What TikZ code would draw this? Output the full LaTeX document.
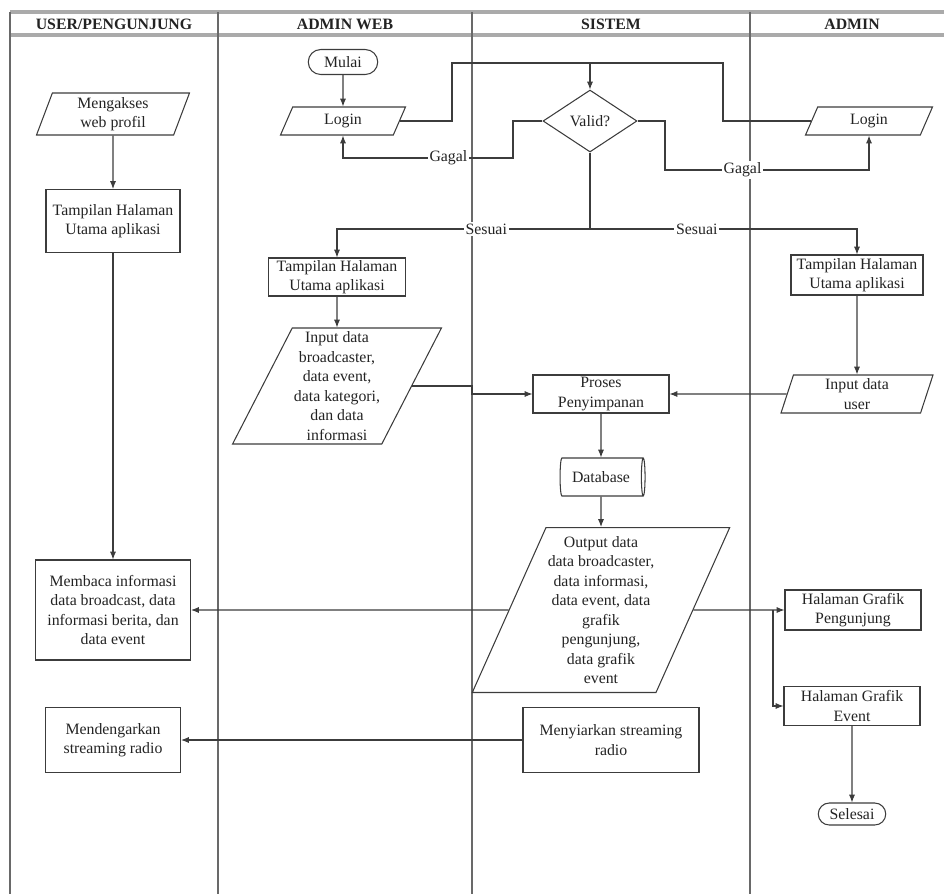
\documentclass[tikz,border=0pt]{standalone}
\usepackage{fontspec}
\setmainfont{Liberation Serif}
\usetikzlibrary{shapes.geometric,shapes.misc,arrows.meta,positioning,calc}
\definecolor{lanegrey}{RGB}{105,105,105}
\definecolor{headgrey}{RGB}{170,170,170}
\definecolor{boxline}{RGB}{60,60,60}
\definecolor{txtdark}{RGB}{35,35,35}

\begin{document}
\begin{tikzpicture}[x=0.02cm, y=-0.02cm,
    font=\fontsize{9}{11.1}\selectfont, text=txtdark,
    lane/.style={draw=lanegrey, line width=0.9pt},
    head/.style={draw=headgrey, line width=1.8pt},
    lanetitle/.style={font=\fontsize{9}{11}\selectfont\bfseries},
    proc/.style={rectangle, draw=boxline, line width=0.6pt, align=center, inner sep=1pt},
    io/.style={trapezium, trapezium stretches body, draw=boxline, line width=0.6pt,
               align=center, inner sep=1pt},
    term/.style={rounded rectangle, draw=boxline, line width=0.6pt, inner sep=1pt},
    dec/.style={diamond, draw=boxline, line width=0.6pt, inner sep=0pt},
    store/.style={cylinder, shape border rotate=0, aspect=0.25, draw=boxline,
                  line width=0.6pt, inner sep=1pt},
    flow/.style={draw=boxline, line width=0.6pt, -{Latex[length=4.5pt,width=3.5pt]}},
    link/.style={draw=boxline, line width=0.6pt},
    lbl/.style={fill=white, inner sep=1pt}]
\useasboundingbox (0,0) rectangle (944,894);

% swimlanes
\draw[head] (10,12) -- (944,12);
\draw[head] (10,35) -- (944,35);
\foreach \lx in {10,218,472,750} {
    \draw[lane] (\lx,12) -- (\lx,894);
}
\node[lanetitle] (hduser) at (114,24) {USER/PENGUNJUNG};
\node[lanetitle] (hdweb) at (345,24) {ADMIN WEB};
\node[lanetitle] (hdsis) at (611,24) {SISTEM};
\node[lanetitle] (hdadm) at (852,24) {ADMIN};

% user / pengunjung
\node[io, trapezium left angle=67, trapezium right angle=113,
      minimum width=3.06cm, minimum height=0.84cm] (akses) at (113,114) {Mengakses\\web profil};
\node[proc, minimum width=2.68cm, minimum height=1.26cm] (tampuser) at (113,221) {Tampilan Halaman\\Utama aplikasi};
\node[proc, minimum width=3.1cm, minimum height=2.0cm] (membaca) at (113,610)
      {Membaca informasi\\data broadcast, data\\informasi berita, dan\\data event};
\node[proc, minimum width=2.7cm, minimum height=1.3cm] (dengar) at (113,740) {Mendengarkan\\streaming radio};

% admin web
\node[term, minimum width=1.46cm, minimum height=0.5cm] (mulai) at (343,62) {Mulai};
\node[io, trapezium left angle=55, trapezium right angle=125,
      minimum width=2.5cm, minimum height=0.56cm] (loginweb) at (343,121) {Login};
\node[proc, minimum width=2.74cm, minimum height=0.76cm] (tampweb) at (337,277) {Tampilan Halaman\\Utama aplikasi};
\node[io, trapezium left angle=62, trapezium right angle=118,
      minimum width=4.04cm, minimum height=2.32cm] (inputweb) at (337,386)
      {Input data\\broadcaster,\\data event,\\data kategori,\\dan data\\informasi};

% sistem
\node[dec, minimum width=1.88cm, minimum height=1.24cm] (valid) at (590,121) {Valid?};
\node[proc, minimum width=2.72cm, minimum height=0.76cm] (proses) at (601,394) {Proses\\Penyimpanan};
\node[store, minimum width=0.76cm, minimum height=1.7cm] (db) at (601,477) {Database};
\node[io, trapezium left angle=64, trapezium right angle=116,
      minimum width=5.12cm, minimum height=3.3cm] (output) at (601,610)
      {Output data\\data broadcaster,\\data informasi,\\data event, data\\grafik\\pengunjung,\\data grafik\\event};
\node[proc, minimum width=3.52cm, minimum height=1.3cm] (siar) at (611,740) {Menyiarkan streaming\\radio};

% admin
\node[io, trapezium left angle=55, trapezium right angle=125,
      minimum width=2.54cm, minimum height=0.56cm] (loginadm) at (869,121) {Login};
\node[proc, minimum width=2.64cm, minimum height=0.8cm] (tampadm) at (857,275) {Tampilan Halaman\\Utama aplikasi};
\node[io, trapezium left angle=70, trapezium right angle=110,
      minimum width=3.04cm, minimum height=0.76cm] (inputuser) at (857,394) {Input data\\user};
\node[proc, minimum width=2.72cm, minimum height=0.8cm] (grafpeng) at (853,610) {Halaman Grafik\\Pengunjung};
\node[proc, minimum width=2.72cm, minimum height=0.78cm] (grafevt) at (852,706) {Halaman Grafik\\Event};
\node[term, minimum width=1.42cm, minimum height=0.44cm] (selesai) at (852,814) {Selesai};

% login and validation
\draw[flow] (mulai) -- (loginweb);
\coordinate (busl) at (452,63);
\coordinate (busr) at (723,63);
\draw[link] (loginweb.east) -| (busl) -- (busr) |- (loginadm.west);
\draw[flow] (valid.north |- busl) -- (valid.north);
\coordinate (gagl) at (513,158);
\draw[flow] (valid.west) -| (gagl) -- node[lbl, pos=0.38] {Gagal} (loginweb.south |- gagl) -- (loginweb.south);
\coordinate (gagr) at (665,170);
\draw[flow] (valid.east) -| (gagr) -- node[lbl, pos=0.38] {Gagal} (loginadm.south |- gagr) -- (loginadm.south);
\coordinate (ses) at (590,229);
\draw[link] (valid.south) -- (ses);
\draw[flow] (ses) -- node[lbl, pos=0.41] {Sesuai} (tampweb.north |- ses) -- (tampweb.north);
\draw[flow] (ses) -- node[lbl, pos=0.4] {Sesuai} (tampadm.north |- ses) -- (tampadm.north);

% data flow
\draw[flow] (akses) -- (tampuser);
\draw[flow] (tampuser) -- (membaca);
\draw[flow] (tampweb) -- (inputweb);
\draw[flow] (tampadm) -- (inputuser);
\coordinate (jog) at (472,0);
\draw[flow] (inputweb.east) -- (inputweb.east -| jog) |- (proses.west);
\draw[flow] (inputuser.west) -- (proses.east);
\draw[flow] (proses) -- (db);
\draw[flow] (db) -- (output);
\draw[flow] (output.west) -- (membaca.east);
\draw[flow] (output.east) -- (grafpeng.west);
\coordinate (split) at (773,610);
\draw[flow] (split) |- (grafevt.west);
\draw[flow] (siar.west) -- (dengar.east);
\draw[flow] (grafevt) -- (selesai);
\end{tikzpicture}
\end{document}
